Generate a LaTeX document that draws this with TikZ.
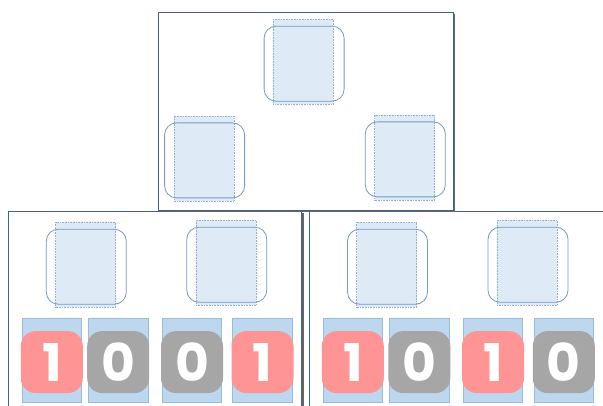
\documentclass[tikz,border=0pt]{standalone}
\usepackage{fontspec}
\usetikzlibrary{shadows}
\newfontfamily\bitfont{Poppins}

\definecolor{framec}{RGB}{66,96,148}
\definecolor{slotfill}{RGB}{222,235,247}
\definecolor{slotline}{RGB}{150,175,208}
\definecolor{nodeline}{RGB}{122,152,194}
\definecolor{barfill}{RGB}{189,215,238}
\definecolor{barline}{RGB}{152,188,224}
\definecolor{onefill}{RGB}{255,148,148}
\definecolor{zerofill}{RGB}{166,166,166}

\tikzset{
  frame/.style={draw=framec, fill=white, line width=1pt, inner sep=0pt,
    drop shadow={shadow xshift=2pt, shadow yshift=-2pt, fill=black!60, opacity=1}},
  slot/.style={draw=slotline, fill=slotfill, densely dotted, line width=0.6pt,
    inner sep=0pt, minimum width=60pt, minimum height=85pt},
  treenode/.style={draw=nodeline, rounded corners=12pt, line width=0.8pt,
    inner sep=0pt, minimum width=80pt, minimum height=75pt},
  bar/.style={draw=barline, fill=barfill, line width=0.6pt, inner sep=0pt,
    minimum width=59.5pt, minimum height=84pt},
  bit/.style={rounded corners=15pt, inner sep=0pt, minimum size=62pt, text=white,
    font=\bitfont\bfseries\fontsize{52}{52}\selectfont},
  bit1/.style={bit, fill=onefill},
  bit0/.style={bit, fill=zerofill}
}

\begin{document}
\begin{tikzpicture}[x=1pt, y=-1pt]
  \useasboundingbox (0,0) rectangle (603,406);
  \clip (0,0) rectangle (603,406);

  % Lower frames
  \node[frame, minimum width=293.5pt, minimum height=210pt] (leftframe) at (155.2,316.5) {};
  \node[frame, minimum width=311pt, minimum height=210pt] (rightframe) at (464.5,316.5) {};

  % Upper frame
  \node[frame, minimum width=294.5pt, minimum height=198pt] (topframe) at (305.8,111.5) {};

  % Tree nodes: slot and rounded outline
  \foreach \name/\x/\y in {root/303.3/61.8, rootl/203.8/158.5, rootr/404.5/157.5,
      ll/85.5/264.8, lr/226/262.8, rl/386.7/264.8, rr/527.2/262.8} {
    \node[slot] (slot-\name) at (\x,\y) {};
    \node[treenode] (\name) at ([xshift=0.8pt, yshift=-1.9pt]slot-\name) {};
  }

  % Bits
  \foreach \x/\b [count=\i] in {51.8/1, 118.2/0, 192/0, 262.5/1,
      352.8/1, 419.3/0, 493/1, 563.8/0} {
    \node[bar] (bar\i) at (\x,360.3) {};
    \node[bit\b] (bit\i) at ([yshift=-1.8pt]bar\i) {\b};
  }
\end{tikzpicture}
\end{document}
